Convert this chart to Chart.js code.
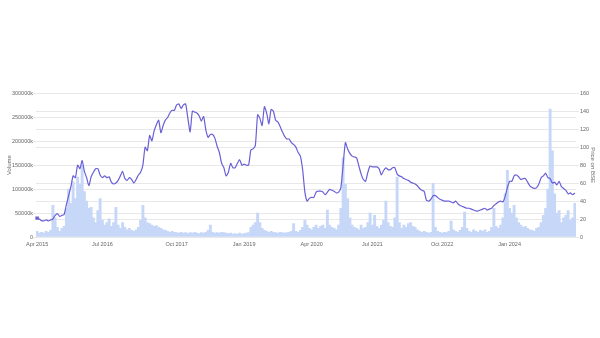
<!DOCTYPE html>
<html>
<head>
<meta charset="utf-8">
<script src="https://cdn.jsdelivr.net/npm/chart.js@4/dist/chart.umd.min.js"></script>
<style>
  html, body { margin: 0; padding: 0; background: #ffffff; }
  body { width: 600px; height: 338px; position: relative; overflow: hidden; }
  #wrap { position: absolute; left: 0; top: 88px; width: 600px; height: 163px; }
</style>
</head>
<body>
<div id="wrap"><canvas id="c"></canvas></div>
<script>
// Semi-monthly observations, Apr 2015 .. Mar 2025
const tickLabels = ["Apr 2015", "Jul 2016", "Oct 2017", "Jan 2019", "Apr 2020", "Jul 2021", "Oct 2022", "Jan 2024"];
const tickIndex = [0, 29, 62, 92, 122, 149, 180, 210];

const priceBSE = [
  21, 20, 18, 18, 19, 18, 19, 20, 24, 26, 23, 24, 25, 36, 46, 56, 68, 66, 80, 76,
  85, 73, 66, 57, 67, 72, 76, 76, 69, 66, 68, 66, 67, 61, 59, 60, 63, 68, 73, 65,
  63, 66, 64, 60, 64, 69, 72, 80, 100, 96, 113, 107, 118, 125, 130, 116, 124, 130, 133, 138,
  141, 141, 147, 148, 143, 147, 148, 132, 117, 140, 139, 138, 135, 129, 134, 119, 111, 114, 114, 110,
  101, 94, 82, 77, 68, 72, 82, 77, 77, 82, 86, 80, 81, 80, 80, 97, 98, 102, 136, 132,
  124, 145, 138, 126, 142, 140, 130, 128, 123, 117, 112, 109, 109, 105, 103, 100, 94, 90, 75, 50,
  40, 43, 44, 44, 50, 51, 51, 50, 47, 50, 53, 52, 51, 49, 50, 55, 80, 105, 98, 93,
  90, 89, 88, 79, 70, 64, 62, 72, 79, 78, 78, 78, 76, 69, 74, 77, 75, 75, 77, 77,
  70, 68, 67, 65, 64, 63, 61, 60, 59, 57, 54, 52, 51, 41, 40, 42, 46, 46, 44, 42,
  41, 40, 40, 40, 39, 38, 40, 37, 35, 34, 33, 32, 32, 31, 30, 29, 29, 30, 31, 32,
  30, 31, 32, 35, 37, 39, 40, 39, 45, 55, 62, 62, 68, 69, 67, 64, 65, 65, 61, 57,
  55, 54, 55, 59, 66, 68, 71, 66, 65, 60, 61, 58, 62, 56, 54, 52, 48, 49, 47, 49
];

// Volume in thousands (axis shows "k")
const volumeK = [
  12000, 8000, 10000, 8000, 12000, 10000, 14000, 66000, 40000, 20000,
  12000, 18000, 22000, 60000, 100000, 70000, 115000, 80000, 125000, 110000,
  150000, 95000, 75000, 60000, 62000, 40000, 30000, 55000, 80000, 35000,
  25000, 30000, 38000, 22000, 30000, 62000, 25000, 18000, 30000, 20000,
  15000, 18000, 14000, 12000, 15000, 20000, 35000, 66000, 40000, 30000,
  28000, 25000, 22000, 24000, 20000, 18000, 15000, 14000, 12000, 10000,
  12000, 10000, 9000, 8000, 10000, 8000, 9000, 7000, 9000, 8000,
  10000, 8000, 7000, 9000, 8000, 10000, 14000, 25000, 10000, 8000,
  9000, 8000, 10000, 9000, 8000, 7000, 8000, 6000, 7000, 6000,
  8000, 6000, 7000, 8000, 9000, 20000, 25000, 30000, 50000, 30000,
  18000, 14000, 12000, 10000, 12000, 10000, 9000, 8000, 10000, 9000,
  8000, 9000, 10000, 12000, 28000, 12000, 10000, 14000, 20000, 35000,
  25000, 18000, 15000, 20000, 25000, 18000, 22000, 25000, 18000, 56000,
  25000, 20000, 18000, 15000, 25000, 60000, 165000, 110000, 80000, 40000,
  25000, 20000, 18000, 15000, 25000, 18000, 20000, 30000, 50000, 25000,
  45000, 22000, 18000, 25000, 35000, 75000, 30000, 22000, 20000, 40000,
  125000, 30000, 18000, 25000, 20000, 28000, 30000, 22000, 20000, 15000,
  12000, 10000, 12000, 10000, 8000, 10000, 112000, 20000, 12000, 10000,
  8000, 10000, 9000, 12000, 33000, 15000, 12000, 10000, 14000, 20000,
  52000, 18000, 12000, 10000, 15000, 12000, 10000, 14000, 12000, 15000,
  10000, 12000, 20000, 60000, 22000, 18000, 25000, 40000, 90000, 139000,
  60000, 50000, 66000, 40000, 30000, 25000, 20000, 22000, 18000, 15000,
  14000, 12000, 18000, 20000, 30000, 45000, 60000, 100000, 267000, 180000,
  90000, 50000, 55000, 30000, 40000, 45000, 55000, 35000, 40000, 70000
];

const monthNames = ["Jan","Feb","Mar","Apr","May","Jun","Jul","Aug","Sep","Oct","Nov","Dec"];
const categories = priceBSE.map((_, i) => {
  const m = 3 + Math.floor(i / 2);
  return monthNames[m % 12] + " " + (2015 + Math.floor(m / 12));
});

const fam = "'Liberation Sans', Arial, Helvetica, sans-serif";
const tickFont = { family: fam, size: 5.5 };
const tickColor = "#666666";
const gridColor = "#e8e8e8";

new Chart(document.getElementById("c"), {
  data: {
    labels: categories,
    datasets: [
      {
        type: "line",
        label: "Price on BSE",
        data: priceBSE,
        yAxisID: "yPrice",
        borderColor: "#6a60d6",
        backgroundColor: "#6a60d6",
        borderWidth: 1.2,
        pointRadius: (ctx) => ctx.dataIndex === 0 ? 1.6 : 0,
        pointStyle: "rect",
        tension: 0.2,
        order: 0
      },
      {
        type: "bar",
        label: "Volume",
        data: volumeK,
        yAxisID: "yVol",
        backgroundColor: "#c6d7f8",
        borderWidth: 0,
        barPercentage: 1,
        categoryPercentage: 1,
        order: 1
      }
    ]
  },
  options: {
    responsive: true,
    maintainAspectRatio: false,
    animation: false,
    layout: { padding: { top: 4, left: 6, right: 4, bottom: 0 } },
    plugins: { legend: { display: false }, tooltip: { enabled: false } },
    scales: {
      x: {
        offset: true,
        grid: { display: false, drawTicks: false },
        border: { display: false },
        ticks: {
          autoSkip: false,
          maxRotation: 0,
          minRotation: 0,
          font: tickFont,
          color: tickColor,
          padding: 4,
          callback: (v, i) => {
            const k = tickIndex.indexOf(i);
            return k >= 0 ? tickLabels[k] : null;
          }
        },
        afterFit: (s) => { s.height = 14; }
      },
      yVol: {
        position: "left",
        min: 0,
        max: 300000,
        border: { display: false },
        grid: { color: gridColor, tickLength: 3 },
        ticks: {
          stepSize: 50000,
          font: tickFont,
          color: tickColor,
          padding: 0,
          callback: (v) => (v === 0 ? "0" : v + "k")
        },
        title: { display: true, text: "Volume", font: { family: fam, size: 6 }, color: tickColor, padding: 0 },
        afterFit: (s) => { s.width = 30; }
      },
      yPrice: {
        position: "right",
        min: 0,
        max: 160,
        border: { display: false },
        grid: { color: gridColor, tickLength: 3 },
        ticks: {
          stepSize: 20,
          font: tickFont,
          color: tickColor,
          padding: 1
        },
        title: { display: true, text: "Price on BSE", font: { family: fam, size: 6 }, color: tickColor, padding: 0 },
        afterFit: (s) => { s.width = 20; }
      }
    }
  }
});
</script>
</body>
</html>
